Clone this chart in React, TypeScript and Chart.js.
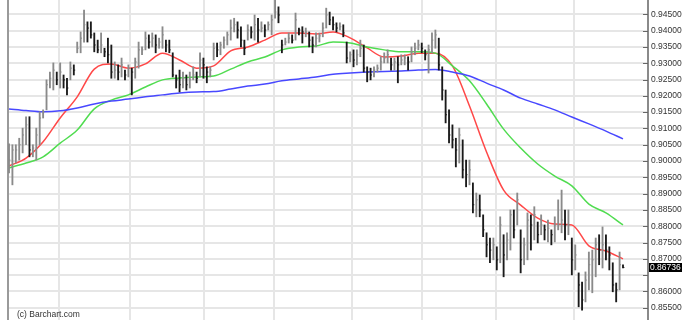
import React, { useEffect, useRef } from 'react';
import { Chart, registerables } from 'chart.js';

Chart.register(...registerables);

// Daily bars (bar index 0 .. 180)
const highs = [
  0.9053, 0.9050, 0.9050, 0.9070, 0.9101, 0.9136, 0.9136, 0.9050, 0.9101, 0.9151,
  0.9157, 0.9249, 0.9273, 0.9301, 0.9273, 0.9301, 0.9264, 0.9254, 0.9304, 0.9295,
  0.9365, 0.9396, 0.9463, 0.9427, 0.9427, 0.9393, 0.9371, 0.9393, 0.9346, 0.9377,
  0.9356, 0.9304, 0.9295, 0.9316, 0.9279, 0.9295, 0.9285, 0.9316, 0.9365, 0.9350,
  0.9396, 0.9387, 0.9393, 0.9387, 0.9377, 0.9412, 0.9371, 0.9371, 0.9332, 0.9264,
  0.9279, 0.9273, 0.9264, 0.9273, 0.9289, 0.9273, 0.9332, 0.9316, 0.9289, 0.9289,
  0.9362, 0.9362, 0.9365, 0.9381, 0.9396, 0.9433, 0.9438, 0.9427, 0.9412, 0.9371,
  0.9418, 0.9412, 0.9448, 0.9438, 0.9427, 0.9418, 0.9427, 0.9448, 0.9500, 0.9473,
  0.9371, 0.9377, 0.9393, 0.9387, 0.9454, 0.9408, 0.9412, 0.9408, 0.9396, 0.9381,
  0.9393, 0.9393, 0.9424, 0.9469, 0.9457, 0.9442, 0.9424, 0.9424, 0.9418, 0.9365,
  0.9335, 0.9341, 0.9341, 0.9371, 0.9356, 0.9289, 0.9285, 0.9289, 0.9295, 0.9320,
  0.9332, 0.9341, 0.9316, 0.9316, 0.9320, 0.9326, 0.9326, 0.9320, 0.9350, 0.9362,
  0.9371, 0.9362, 0.9341, 0.9356, 0.9393, 0.9402, 0.9377, 0.9289, 0.9218, 0.9157,
  0.9111, 0.9070, 0.9101, 0.9065, 0.9003, 0.9003, 0.8933, 0.8902, 0.8896, 0.8835,
  0.8780, 0.8764, 0.8764, 0.8737, 0.8829, 0.8774, 0.8780, 0.8850, 0.8850, 0.8902,
  0.8789, 0.8764, 0.8841, 0.8835, 0.8860, 0.8813, 0.8835, 0.8804, 0.8819, 0.8789,
  0.8829, 0.8881, 0.8911, 0.8850, 0.8850, 0.8764, 0.8743, 0.8657, 0.8629, 0.8660,
  0.8721, 0.8727, 0.8764, 0.8774, 0.8798, 0.8774, 0.8737, 0.8688, 0.8626, 0.8721,
  0.8682,
];

const lows = [
  0.8964, 0.8927, 0.8994, 0.9003, 0.9025, 0.9050, 0.9013, 0.9013, 0.9003, 0.9050,
  0.9132, 0.9157, 0.9224, 0.9218, 0.9234, 0.9224, 0.9224, 0.9203, 0.9249, 0.9264,
  0.9332, 0.9332, 0.9365, 0.9365, 0.9377, 0.9335, 0.9332, 0.9332, 0.9320, 0.9301,
  0.9254, 0.9254, 0.9249, 0.9258, 0.9249, 0.9258, 0.9203, 0.9254, 0.9285, 0.9326,
  0.9341, 0.9346, 0.9350, 0.9332, 0.9346, 0.9346, 0.9335, 0.9332, 0.9258, 0.9224,
  0.9212, 0.9224, 0.9218, 0.9224, 0.9249, 0.9240, 0.9258, 0.9254, 0.9240, 0.9258,
  0.9310, 0.9320, 0.9326, 0.9346, 0.9356, 0.9371, 0.9396, 0.9377, 0.9350, 0.9326,
  0.9371, 0.9377, 0.9371, 0.9365, 0.9396, 0.9381, 0.9402, 0.9387, 0.9438, 0.9424,
  0.9332, 0.9356, 0.9362, 0.9362, 0.9371, 0.9387, 0.9362, 0.9381, 0.9350, 0.9332,
  0.9350, 0.9365, 0.9381, 0.9408, 0.9418, 0.9402, 0.9396, 0.9402, 0.9381, 0.9301,
  0.9304, 0.9289, 0.9295, 0.9320, 0.9273, 0.9243, 0.9249, 0.9258, 0.9273, 0.9279,
  0.9301, 0.9301, 0.9279, 0.9279, 0.9240, 0.9295, 0.9295, 0.9279, 0.9304, 0.9326,
  0.9341, 0.9332, 0.9310, 0.9270, 0.9332, 0.9346, 0.9279, 0.9187, 0.9117, 0.9056,
  0.9040, 0.8982, 0.8994, 0.8948, 0.8921, 0.8927, 0.8841, 0.8829, 0.8829, 0.8768,
  0.8706, 0.8688, 0.8697, 0.8666, 0.8688, 0.8645, 0.8697, 0.8727, 0.8764, 0.8804,
  0.8657, 0.8682, 0.8697, 0.8727, 0.8758, 0.8749, 0.8774, 0.8758, 0.8752, 0.8743,
  0.8752, 0.8789, 0.8780, 0.8758, 0.8774, 0.8651, 0.8666, 0.8553, 0.8543, 0.8568,
  0.8605, 0.8596, 0.8645, 0.8682, 0.8672, 0.8697, 0.8666, 0.8599, 0.8568, 0.8605,
  0.8672,
];

const closes = [
  0.9003, 0.9034, 0.9034, 0.9050, 0.9080, 0.9111, 0.9034, 0.9040, 0.9080, 0.9132,
  0.9151, 0.9234, 0.9254, 0.9279, 0.9249, 0.9273, 0.9249, 0.9224, 0.9285, 0.9279,
  0.9346, 0.9377, 0.9418, 0.9408, 0.9387, 0.9356, 0.9341, 0.9356, 0.9335, 0.9326,
  0.9273, 0.9279, 0.9273, 0.9295, 0.9264, 0.9285, 0.9273, 0.9304, 0.9341, 0.9341,
  0.9377, 0.9365, 0.9377, 0.9356, 0.9365, 0.9387, 0.9356, 0.9341, 0.9264, 0.9249,
  0.9234, 0.9254, 0.9234, 0.9249, 0.9264, 0.9254, 0.9310, 0.9295, 0.9273, 0.9279,
  0.9346, 0.9341, 0.9356, 0.9371, 0.9387, 0.9408, 0.9418, 0.9402, 0.9371, 0.9346,
  0.9402, 0.9396, 0.9418, 0.9402, 0.9408, 0.9402, 0.9418, 0.9433, 0.9457, 0.9448,
  0.9356, 0.9365, 0.9377, 0.9371, 0.9433, 0.9402, 0.9396, 0.9396, 0.9371, 0.9356,
  0.9377, 0.9384, 0.9408, 0.9448, 0.9433, 0.9418, 0.9408, 0.9412, 0.9393, 0.9316,
  0.9326, 0.9310, 0.9326, 0.9346, 0.9285, 0.9273, 0.9264, 0.9279, 0.9285, 0.9304,
  0.9316, 0.9326, 0.9295, 0.9304, 0.9295, 0.9310, 0.9316, 0.9304, 0.9335, 0.9346,
  0.9356, 0.9346, 0.9326, 0.9341, 0.9371, 0.9387, 0.9295, 0.9218, 0.9142, 0.9080,
  0.9065, 0.9034, 0.9080, 0.8973, 0.8958, 0.8973, 0.8866, 0.8881, 0.8850, 0.8789,
  0.8743, 0.8727, 0.8743, 0.8697, 0.8804, 0.8712, 0.8758, 0.8835, 0.8789, 0.8881,
  0.8697, 0.8743, 0.8819, 0.8804, 0.8835, 0.8774, 0.8804, 0.8789, 0.8794, 0.8774,
  0.8804, 0.8804, 0.8819, 0.8804, 0.8804, 0.8697, 0.8712, 0.8620, 0.8574, 0.8635,
  0.8682, 0.8697, 0.8743, 0.8727, 0.8743, 0.8727, 0.8712, 0.8620, 0.8605, 0.8682,
  0.86736,
];

// Moving averages, read at every 5th bar
const maBars = [
  0, 5, 10, 15, 20, 25, 30, 35, 40, 45, 50, 55, 60, 65, 70, 75, 80, 85, 90,
  95, 100, 105, 110, 115, 120, 125, 130, 135, 140, 145, 150, 155, 160, 165, 170, 175, 180,
];
const maRed = [
  0.8985, 0.9009, 0.9059, 0.9132, 0.9197, 0.9282, 0.9298, 0.9285, 0.9298, 0.9331,
  0.9310, 0.9285, 0.9292, 0.9338, 0.9350, 0.9371, 0.9393, 0.9393, 0.9390, 0.9396,
  0.9378, 0.9347, 0.9319, 0.9322, 0.9331, 0.9331, 0.9292, 0.9169, 0.9028, 0.8911,
  0.8865, 0.8825, 0.8807, 0.8804, 0.8740, 0.8724, 0.8700,
];
const maGreen = [
  0.8979, 0.8994, 0.9013, 0.9055, 0.9095, 0.9160, 0.9187, 0.9203, 0.9227, 0.9249,
  0.9255, 0.9258, 0.9261, 0.9282, 0.9304, 0.9319, 0.9341, 0.9350, 0.9353, 0.9365,
  0.9362, 0.9350, 0.9341, 0.9335, 0.9335, 0.9331, 0.9292, 0.9246, 0.9175, 0.9098,
  0.9040, 0.8991, 0.8954, 0.8924, 0.8868, 0.8841, 0.8804,
];
const maBlue = [
  0.9160, 0.9155, 0.9151, 0.9154, 0.9163, 0.9175, 0.9184, 0.9190, 0.9197, 0.9203,
  0.9209, 0.9212, 0.9213, 0.9221, 0.9230, 0.9236, 0.9246, 0.9252, 0.9258, 0.9266,
  0.9270, 0.9273, 0.9275, 0.9276, 0.9279, 0.9281, 0.9273, 0.9261, 0.9239, 0.9218,
  0.9193, 0.9175, 0.9157, 0.9135, 0.9114, 0.9092, 0.9068,
];

// Month boundaries (bar positions) for vertical grid lines
const monthStartBars = [14.6, 35.5, 57.2, 77.7, 100.6, 121.1, 142.8, 165.6];

// Price axis tick values
const priceTicks = [
  0.845, 0.85, 0.855, 0.86, 0.865, 0.87, 0.875, 0.88, 0.885, 0.89, 0.895, 0.9,
  0.905, 0.91, 0.915, 0.92, 0.925, 0.93, 0.935, 0.94, 0.945, 0.95, 0.955,
];

const CROP_TOP = 30;
const CANVAS_H = 380;
const Y_MIN = 0.84205;
const Y_MAX = 0.9586;
const X_MIN = -0.293;
const X_MAX = 187.33;
const FONT = "'Liberation Sans', Arial, sans-serif";

const noPad = (s: any) => {
  s.paddingTop = 0;
  s.paddingBottom = 0;
  s.paddingLeft = 0;
  s.paddingRight = 0;
};

export default function App() {
  const ref = useRef<HTMLCanvasElement>(null);

  useEffect(() => {
    const canvas = ref.current;
    if (!canvas) return;
    const lastPrice = closes[closes.length - 1];
    const barColors = closes.map((c, i) => (i > 0 && c < closes[i - 1] ? '#1a1a1a' : '#8a8a8a'));

    const overlay = {
      id: 'overlay',
      afterDatasetsDraw(chart: any) {
        const { ctx, chartArea } = chart;
        const ys = chart.scales.y;
        ctx.save();
        ctx.strokeStyle = '#666';
        ctx.lineWidth = 1;
        ys.ticks.forEach((t: any) => {
          const py = Math.round(ys.getPixelForValue(t.value)) + 0.5;
          ctx.beginPath();
          ctx.moveTo(chartArea.right - 5, py);
          ctx.lineTo(chartArea.right, py);
          ctx.stroke();
        });
        ctx.restore();
      },
      afterDraw(chart: any) {
        const { ctx, chartArea } = chart;
        const ys = chart.scales.y;
        const py = ys.getPixelForValue(lastPrice);
        ctx.save();
        ctx.fillStyle = '#000';
        ctx.fillRect(chartArea.right + 1, Math.round(py - 4.5), 33, 9);
        ctx.fillStyle = '#fff';
        ctx.font = `8.5px ${FONT}`;
        ctx.textBaseline = 'middle';
        ctx.textAlign = 'left';
        ctx.fillText(lastPrice.toFixed(5), chartArea.right + 2, py + 0.5);
        ctx.fillStyle = '#333';
        ctx.textBaseline = 'alphabetic';
        ctx.fillText('(c) Barchart.com', 17, 317 + CROP_TOP);
        ctx.restore();
      },
    };

    const chart = new Chart(canvas, {
      type: 'line',
      data: {
        datasets: [
          {
            type: 'bar',
            data: highs.map((h, i) => ({ x: i, y: [lows[i], h] })),
            backgroundColor: barColors,
            borderWidth: 0,
            barThickness: 1.2,
            order: 0,
          } as any,
          {
            type: 'line',
            data: closes.map((c, i) => ({ x: i, y: c })),
            showLine: false,
            pointStyle: 'dash',
            pointRadius: 1.4,
            pointBorderWidth: 1,
            pointBorderColor: barColors,
            pointBackgroundColor: barColors,
            order: 0,
          } as any,
          {
            type: 'line',
            data: maBars.map((b, k) => ({ x: b, y: maBlue[k] })),
            borderColor: 'rgb(72,72,255)',
            borderWidth: 1.5,
            pointRadius: 0,
            cubicInterpolationMode: 'monotone',
            order: 2,
          } as any,
          {
            type: 'line',
            data: maBars.map((b, k) => ({ x: b, y: maGreen[k] })),
            borderColor: 'rgb(80,220,80)',
            borderWidth: 1.5,
            pointRadius: 0,
            cubicInterpolationMode: 'monotone',
            order: 2,
          } as any,
          {
            type: 'line',
            data: maBars.map((b, k) => ({ x: b, y: maRed[k] })),
            borderColor: 'rgb(255,72,72)',
            borderWidth: 1.5,
            pointRadius: 0,
            cubicInterpolationMode: 'monotone',
            order: 2,
          } as any,
        ],
      },
      options: {
        responsive: false,
        animation: false,
        events: [],
        layout: { padding: 0, autoPadding: false },
        plugins: {
          legend: { display: false },
          tooltip: { enabled: false },
        },
        scales: {
          x: {
            type: 'linear',
            min: X_MIN,
            max: X_MAX,
            offset: false,
            grid: { color: '#e6e6e6', lineWidth: 2, drawTicks: false, offset: false },
            border: { display: false },
            ticks: { display: false },
            afterBuildTicks: (s: any) => {
              s.ticks = monthStartBars.map((v) => ({ value: v }));
            },
            afterFit: (s: any) => {
              s.height = 0;
              noPad(s);
            },
          },
          y: {
            type: 'linear',
            position: 'right',
            min: Y_MIN,
            max: Y_MAX,
            grid: { color: '#e6e6e6', lineWidth: 2, drawTicks: false },
            border: { display: true, color: '#8a8a8a', width: 2 },
            ticks: {
              autoSkip: false,
              padding: 3,
              color: '#333',
              font: { family: FONT, size: 8.5 },
              callback: (v: any) =>
                Math.abs(Number(v) - lastPrice) < 0.0025 ? '' : Number(v).toFixed(5),
            },
            afterBuildTicks: (s: any) => {
              s.ticks = priceTicks.map((v) => ({ value: v }));
            },
            afterFit: (s: any) => {
              s.width = 37;
              noPad(s);
            },
          },
          yl: {
            type: 'linear',
            position: 'left',
            min: Y_MIN,
            max: Y_MAX,
            ticks: { display: false },
            grid: { display: false, drawTicks: false },
            border: { display: true, color: '#9a9a9a', width: 2 },
            afterFit: (s: any) => {
              s.width = 8;
              noPad(s);
            },
          },
        },
      } as any,
      plugins: [overlay],
    });

    return () => chart.destroy();
  }, []);

  return (
    <div
      style={{
        position: 'fixed',
        left: 0,
        top: 0,
        width: 685,
        height: 320,
        overflow: 'hidden',
        background: '#fff',
      }}
    >
      <canvas
        ref={ref}
        width={685}
        height={CANVAS_H}
        style={{ position: 'absolute', left: 0, top: -CROP_TOP, width: 685, height: CANVAS_H }}
      />
    </div>
  );
}
